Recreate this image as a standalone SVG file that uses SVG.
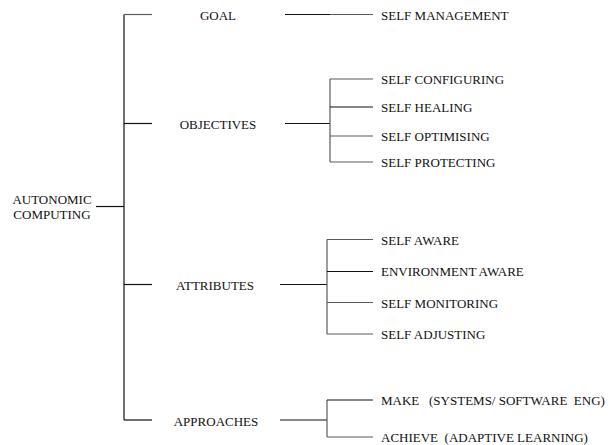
<svg xmlns="http://www.w3.org/2000/svg" width="613" height="445" viewBox="0 0 613 445">
  <style>
    text { font-family: "Liberation Serif", "Times New Roman", serif; font-size: 13px; fill: #111; white-space: pre; }
    .mid { text-anchor: middle; }
    .dk { stroke: #111; stroke-width: 1.2; fill: none; }
    .lt { stroke: #5a5a5a; stroke-width: 1.2; fill: none; }
  </style>
  <rect width="613" height="445" fill="#fff"/>

  <g id="connectors">
    <!-- root trunk -->
    <line class="dk" x1="96" y1="206.5" x2="124" y2="206.5"/>
    <line class="dk" x1="124" y1="14.5" x2="124" y2="420"/>
    <line class="lt" x1="124" y1="14.5" x2="152" y2="14.5"/>
    <line class="dk" x1="124" y1="123.5" x2="152" y2="123.5"/>
    <line class="dk" x1="124" y1="284.5" x2="152" y2="284.5"/>
    <line class="dk" x1="124" y1="420" x2="152" y2="420"/>

    <!-- goal -->
    <line class="dk" x1="285" y1="14.5" x2="330" y2="14.5"/>
    <line class="lt" x1="330" y1="14.5" x2="373" y2="14.5"/>

    <!-- objectives -->
    <line class="dk" x1="285" y1="123.5" x2="330" y2="123.5"/>
    <line class="lt" x1="330" y1="79" x2="330" y2="162"/>
    <line class="lt" x1="330" y1="79" x2="373" y2="79"/>
    <line class="dk" x1="330" y1="107" x2="373" y2="107"/>
    <line class="lt" x1="330" y1="136" x2="373" y2="136"/>
    <line class="lt" x1="330" y1="162" x2="373" y2="162"/>

    <!-- attributes -->
    <line class="dk" x1="280" y1="284.5" x2="327" y2="284.5"/>
    <line class="lt" x1="327" y1="239.5" x2="327" y2="334"/>
    <line class="lt" x1="327" y1="239.5" x2="373" y2="239.5"/>
    <line class="dk" x1="327" y1="271.5" x2="373" y2="271.5"/>
    <line class="lt" x1="327" y1="302.5" x2="373" y2="302.5"/>
    <line class="lt" x1="327" y1="334" x2="373" y2="334"/>

    <!-- approaches -->
    <line class="dk" x1="280" y1="420" x2="327" y2="420"/>
    <line class="lt" x1="327" y1="400" x2="327" y2="437"/>
    <line class="dk" x1="327" y1="400" x2="373" y2="400"/>
    <line class="lt" x1="327" y1="437" x2="373" y2="437"/>
  </g>

  <g id="root">
    <text class="mid" x="52" y="203.5">AUTONOMIC</text>
    <text class="mid" x="52" y="218.5">COMPUTING</text>
  </g>

  <g id="goal"><text class="mid" x="218" y="20">GOAL</text></g>
  <g id="objectives"><text class="mid" x="218" y="129">OBJECTIVES</text></g>
  <g id="attributes"><text class="mid" x="215" y="289.5">ATTRIBUTES</text></g>
  <g id="approaches"><text class="mid" x="216" y="425.5">APPROACHES</text></g>

  <g id="self-management"><text x="381" y="19.5">SELF MANAGEMENT</text></g>
  <g id="self-configuring"><text x="381" y="84">SELF CONFIGURING</text></g>
  <g id="self-healing"><text x="381" y="112">SELF HEALING</text></g>
  <g id="self-optimising"><text x="381" y="140.5">SELF OPTIMISING</text></g>
  <g id="self-protecting"><text x="381" y="167">SELF PROTECTING</text></g>

  <g id="self-aware"><text x="381" y="244.5">SELF AWARE</text></g>
  <g id="environment-aware"><text x="381" y="276">ENVIRONMENT AWARE</text></g>
  <g id="self-monitoring"><text x="381" y="307.5">SELF MONITORING</text></g>
  <g id="self-adjusting"><text x="381" y="339">SELF ADJUSTING</text></g>

  <g id="make"><text x="381" y="405">MAKE   (SYSTEMS/ SOFTWARE  ENG)</text></g>
  <g id="achieve"><text x="381" y="441.5">ACHIEVE  (ADAPTIVE LEARNING)</text></g>
</svg>
